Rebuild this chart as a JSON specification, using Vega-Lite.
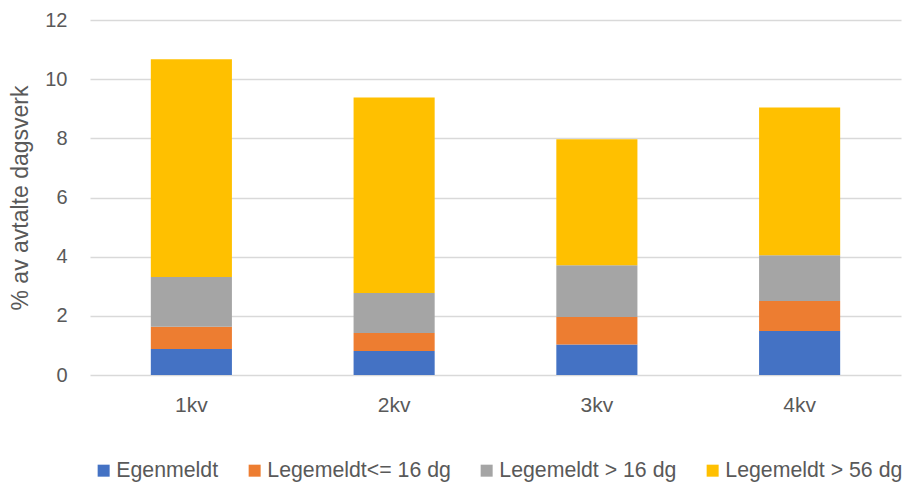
{
  "$schema": "https://vega.github.io/schema/vega-lite/v6.json",
  "autosize": {"type": "none"},
  "padding": {"left": 90, "top": 20, "right": 11, "bottom": 109},
  "width": 811,
  "height": 355,
  "background": "white",
  "config": {
    "font": "Liberation Sans",
    "view": {"stroke": null},
    "axis": {"labelColor": "#595959", "titleColor": "#595959", "labelFont": "Liberation Sans", "titleFont": "Liberation Sans"}
  },
  "data": {
    "values": [
      {"kv": "1kv", "type": "Egenmeldt", "order": 1, "value": 0.88},
      {"kv": "1kv", "type": "Legemeldt<= 16 dg", "order": 2, "value": 0.75},
      {"kv": "1kv", "type": "Legemeldt > 16 dg", "order": 3, "value": 1.68},
      {"kv": "1kv", "type": "Legemeldt > 56 dg", "order": 4, "value": 7.36},
      {"kv": "2kv", "type": "Egenmeldt", "order": 1, "value": 0.81},
      {"kv": "2kv", "type": "Legemeldt<= 16 dg", "order": 2, "value": 0.61},
      {"kv": "2kv", "type": "Legemeldt > 16 dg", "order": 3, "value": 1.35},
      {"kv": "2kv", "type": "Legemeldt > 56 dg", "order": 4, "value": 6.61},
      {"kv": "3kv", "type": "Egenmeldt", "order": 1, "value": 1.03},
      {"kv": "3kv", "type": "Legemeldt<= 16 dg", "order": 2, "value": 0.93},
      {"kv": "3kv", "type": "Legemeldt > 16 dg", "order": 3, "value": 1.75},
      {"kv": "3kv", "type": "Legemeldt > 56 dg", "order": 4, "value": 4.26},
      {"kv": "4kv", "type": "Egenmeldt", "order": 1, "value": 1.49},
      {"kv": "4kv", "type": "Legemeldt<= 16 dg", "order": 2, "value": 1.01},
      {"kv": "4kv", "type": "Legemeldt > 16 dg", "order": 3, "value": 1.55},
      {"kv": "4kv", "type": "Legemeldt > 56 dg", "order": 4, "value": 4.99}
    ]
  },
  "mark": {"type": "bar"},
  "encoding": {
    "x": {
      "field": "kv", "type": "nominal",
      "scale": {"paddingInner": 0.6, "paddingOuter": 0.3},
      "axis": {"title": null, "labelAngle": 0, "ticks": false, "domain": false, "labelFontSize": 21, "labelPadding": 19, "grid": false}
    },
    "y": {
      "field": "value", "type": "quantitative", "stack": "zero",
      "scale": {"domain": [0, 12], "nice": false},
      "axis": {
        "title": "% av avtalte dagsverk", "titleFontSize": 23, "titleFontWeight": "normal", "titlePadding": 12,
        "values": [0, 2, 4, 6, 8, 10, 12], "labelFontSize": 20, "labelPadding": 23,
        "ticks": false, "domain": false, "grid": true, "gridColor": "#D9D9D9", "gridWidth": 1.5
      }
    },
    "color": {
      "field": "type", "type": "nominal",
      "scale": {
        "domain": ["Egenmeldt", "Legemeldt<= 16 dg", "Legemeldt > 16 dg", "Legemeldt > 56 dg"],
        "range": ["#4472C4", "#ED7D31", "#A5A5A5", "#FFC000"]
      },
      "legend": {
        "title": null, "orient": "none", "direction": "horizontal", "legendX": 3, "legendY": 440,
        "symbolType": "square", "symbolSize": 144, "symbolStrokeWidth": 0, "symbolOpacity": 1,
        "labelFontSize": 21.3, "labelColor": "#595959", "labelLimit": 0, "columnPadding": 25, "labelOffset": 2, "padding": 0
      }
    },
    "order": {"field": "order", "type": "quantitative"}
  }
}
